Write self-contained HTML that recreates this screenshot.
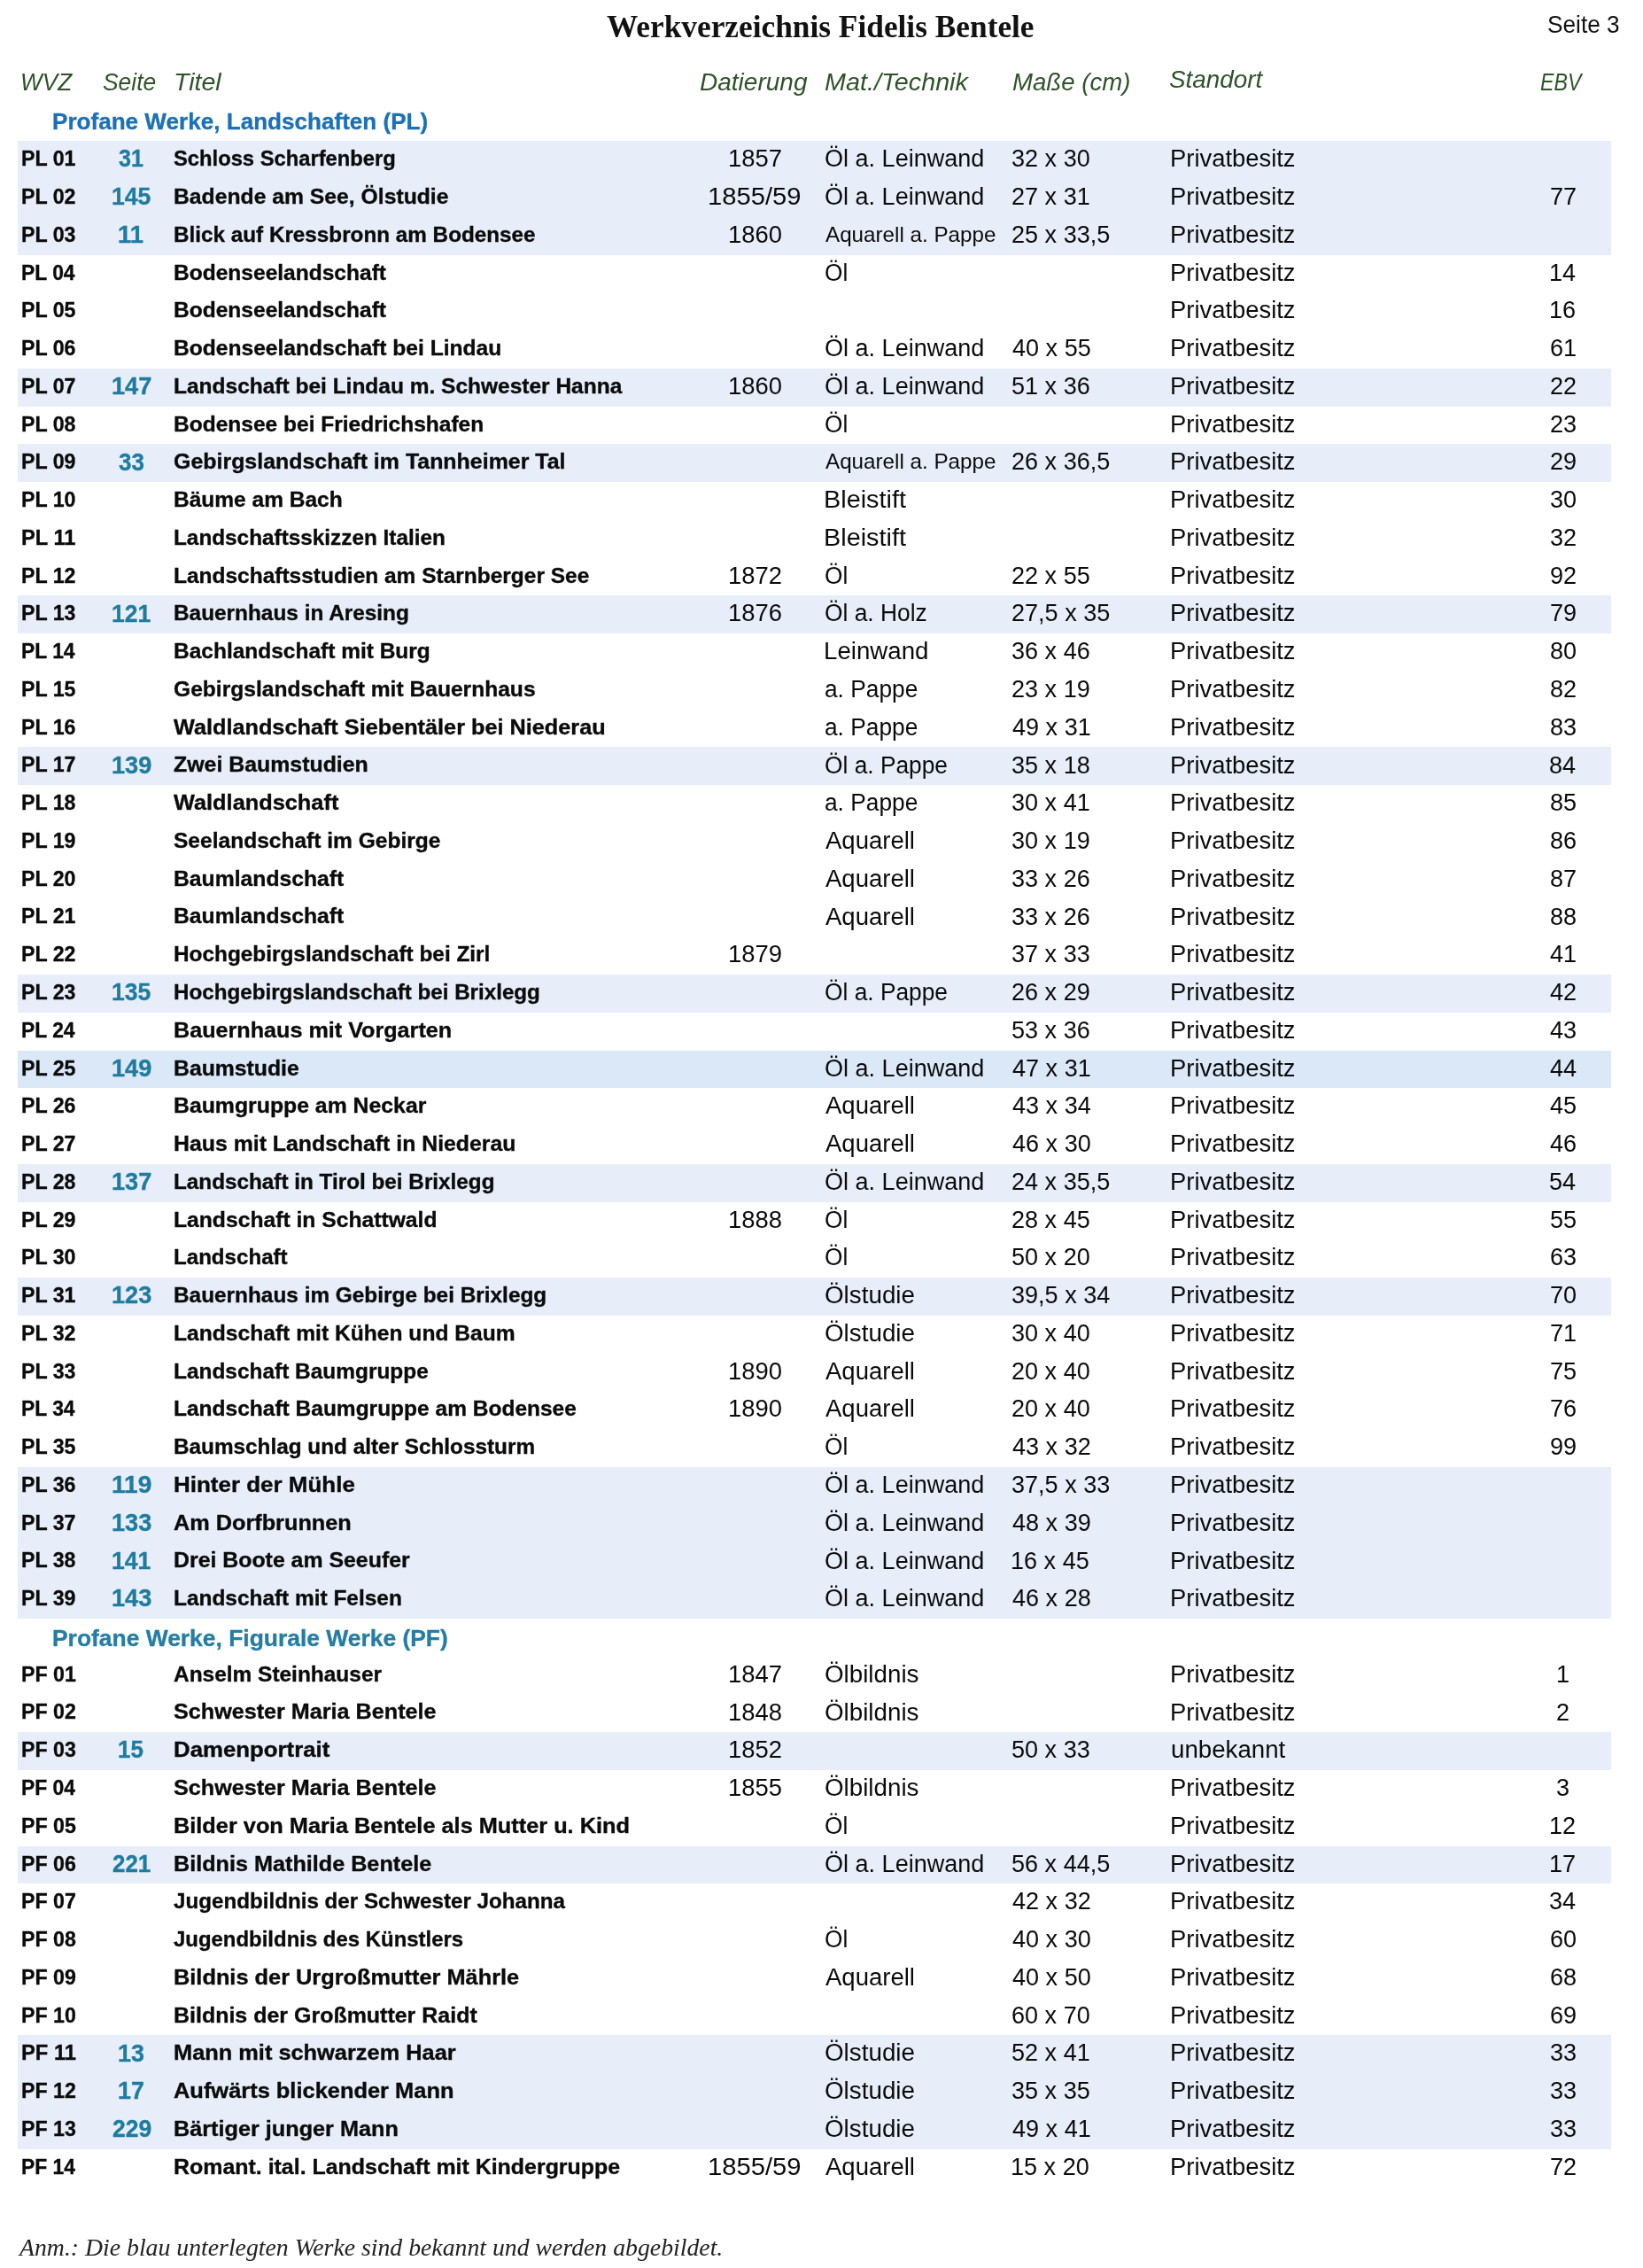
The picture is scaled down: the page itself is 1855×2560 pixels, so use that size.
<!DOCTYPE html>
<html lang="de"><head><meta charset="utf-8"><title>Werkverzeichnis Fidelis Bentele</title>
<style>
html,body{margin:0;padding:0;background:#fff}
body{width:1855px;height:2560px;position:relative;overflow:hidden;font-family:"Liberation Sans",sans-serif}
#pg{position:absolute;left:0;top:0;width:1855px;height:2560px;will-change:transform;filter:blur(0.55px)}
.bd{position:absolute;left:20.0px;width:1798.6px;height:42.762px}
.t{position:absolute;white-space:nowrap;line-height:1;transform-origin:0 0;font-kerning:normal}
.f0{font-family:"Liberation Serif",serif;font-size:35.0px;font-weight:bold;font-style:normal;color:#111}
.f1{font-family:"Liberation Sans",sans-serif;font-size:28.5px;font-weight:normal;font-style:normal;color:#111}
.f2{font-family:"Liberation Serif",serif;font-size:28.0px;font-weight:normal;font-style:italic;color:#222}
.f3{font-family:"Liberation Sans",sans-serif;font-size:27.3px;font-weight:normal;font-style:italic;color:#2e5329}
.f4{font-family:"Liberation Sans",sans-serif;font-size:26.4px;font-weight:bold;font-style:normal;color:#1a71b8;-webkit-text-stroke:0.35px #1a71b8}
.f5{font-family:"Liberation Sans",sans-serif;font-size:24.5px;font-weight:bold;font-style:normal;color:#0b0b0b;-webkit-text-stroke:0.35px #0b0b0b}
.f6{font-family:"Liberation Sans",sans-serif;font-size:26.8px;font-weight:bold;font-style:normal;color:#1f7ba0;-webkit-text-stroke:0.35px #1f7ba0}
.f7{font-family:"Liberation Sans",sans-serif;font-size:26.8px;font-weight:normal;font-style:normal;color:#0b0b0b}
.f8{font-family:"Liberation Sans",sans-serif;font-size:24.0px;font-weight:normal;font-style:normal;color:#0b0b0b}
.f9{font-family:"Liberation Sans",sans-serif;font-size:26.4px;font-weight:bold;font-style:normal;color:#247ea4;-webkit-text-stroke:0.35px #247ea4}
</style></head><body><div id="pg">
<div class="bd" style="top:159.30px;background:#e7eef9"></div>
<div class="bd" style="top:202.06px;background:#e7eef9"></div>
<div class="bd" style="top:244.82px;background:#e7eef9"></div>
<div class="bd" style="top:415.87px;background:#e7eef9"></div>
<div class="bd" style="top:501.40px;background:#e7eef9"></div>
<div class="bd" style="top:672.44px;background:#e7eef9"></div>
<div class="bd" style="top:843.49px;background:#e7eef9"></div>
<div class="bd" style="top:1100.06px;background:#e7eef9"></div>
<div class="bd" style="top:1185.59px;background:#dae8f8"></div>
<div class="bd" style="top:1313.87px;background:#e7eef9"></div>
<div class="bd" style="top:1442.16px;background:#e7eef9"></div>
<div class="bd" style="top:1655.97px;background:#e7eef9"></div>
<div class="bd" style="top:1698.73px;background:#e7eef9"></div>
<div class="bd" style="top:1741.49px;background:#e7eef9"></div>
<div class="bd" style="top:1784.26px;background:#e7eef9"></div>
<div class="bd" style="top:1955.30px;background:#e7eef9"></div>
<div class="bd" style="top:2083.59px;background:#e7eef9"></div>
<div class="bd" style="top:2297.40px;background:#e7eef9"></div>
<div class="bd" style="top:2340.16px;background:#e7eef9"></div>
<div class="bd" style="top:2382.92px;background:#e7eef9"></div>
<span class="t f0" style="left:685.00px;top:13px;transform:scaleX(1.0090)">Werkverzeichnis Fidelis Bentele</span>
<span class="t f1" style="left:1746.78px;top:13px;transform:scaleX(0.9197)">Seite 3</span>
<span class="t f2" style="left:21.98px;top:2523px;transform:scaleX(0.9914)">Anm.: Die blau unterlegten Werke sind bekannt und werden abgebildet.</span>
<span class="t f3" style="left:22.83px;top:79px;transform:scaleX(0.9596)">WVZ</span>
<span class="t f3" style="left:116.00px;top:79px;transform:scaleX(0.9680)">Seite</span>
<span class="t f3" style="left:195.66px;top:79px;transform:scaleX(1.0455)">Titel</span>
<span class="t f3" style="left:789.50px;top:79px;transform:scaleX(1.0264)">Datierung</span>
<span class="t f3" style="left:930.70px;top:79px;transform:scaleX(1.0529)">Mat./Technik</span>
<span class="t f3" style="left:1142.70px;top:79px;transform:scaleX(1.0112)">Maße (cm)</span>
<span class="t f3" style="left:1319.90px;top:76px;transform:scaleX(1.0191)">Standort</span>
<span class="t f3" style="left:1738.50px;top:79px;transform:scaleX(0.8500)">EBV</span>
<span class="t f4" style="left:58.51px;top:124px;transform:scaleX(0.9885)">Profane Werke, Landschaften (PL)</span>
<span class="t f5" style="left:23.95px;top:167px;transform:scaleX(0.9476)">PL 01</span>
<span class="t f6" style="left:134.30px;top:166px;transform:scaleX(0.9364)">31</span>
<span class="t f5" style="left:196.35px;top:167px;transform:scaleX(0.9694)">Schloss Scharfenberg</span>
<span class="t f7" style="left:821.55px;top:166px;transform:scaleX(1.0228)">1857</span>
<span class="t f7" style="left:930.69px;top:166px;transform:scaleX(1.0087)">Öl a. Leinwand</span>
<span class="t f7" style="left:1142.39px;top:166px;transform:scaleX(1.0093)">32 x 30</span>
<span class="t f7" style="left:1320.56px;top:166px;transform:scaleX(1.0220)">Privatbesitz</span>
<span class="t f5" style="left:23.95px;top:210px;transform:scaleX(0.9476)">PL 02</span>
<span class="t f6" style="left:125.61px;top:209px;transform:scaleX(0.9907)">145</span>
<span class="t f5" style="left:196.35px;top:210px;transform:scaleX(1.0090)">Badende am See, Ölstudie</span>
<span class="t f7" style="left:799.27px;top:209px;transform:scaleX(1.0888)">1855/59</span>
<span class="t f7" style="left:930.69px;top:209px;transform:scaleX(1.0087)">Öl a. Leinwand</span>
<span class="t f7" style="left:1142.39px;top:209px;transform:scaleX(1.0093)">27 x 31</span>
<span class="t f7" style="left:1320.56px;top:209px;transform:scaleX(1.0220)">Privatbesitz</span>
<span class="t f7" style="left:1749.61px;top:209px;transform:scaleX(1.0093)">77</span>
<span class="t f5" style="left:23.95px;top:253px;transform:scaleX(0.9476)">PL 03</span>
<span class="t f6" style="left:133.28px;top:252px;transform:scaleX(1.0210)">11</span>
<span class="t f5" style="left:196.35px;top:253px;transform:scaleX(0.9904)">Blick auf Kressbronn am Bodensee</span>
<span class="t f7" style="left:821.55px;top:252px;transform:scaleX(1.0228)">1860</span>
<span class="t f8" style="left:931.70px;top:253px;transform:scaleX(1.0086)">Aquarell a. Pappe</span>
<span class="t f7" style="left:1142.39px;top:252px;transform:scaleX(1.0093)">25 x 33,5</span>
<span class="t f7" style="left:1320.56px;top:252px;transform:scaleX(1.0220)">Privatbesitz</span>
<span class="t f5" style="left:23.97px;top:296px;transform:scaleX(0.9330)">PL 04</span>
<span class="t f5" style="left:196.35px;top:296px;transform:scaleX(1.0016)">Bodenseelandschaft</span>
<span class="t f7" style="left:930.72px;top:295px;transform:scaleX(0.9781)">Öl</span>
<span class="t f7" style="left:1320.56px;top:295px;transform:scaleX(1.0220)">Privatbesitz</span>
<span class="t f7" style="left:1748.60px;top:295px;transform:scaleX(1.0093)">14</span>
<span class="t f5" style="left:23.95px;top:338px;transform:scaleX(0.9476)">PL 05</span>
<span class="t f5" style="left:196.35px;top:338px;transform:scaleX(1.0016)">Bodenseelandschaft</span>
<span class="t f7" style="left:1320.56px;top:337px;transform:scaleX(1.0220)">Privatbesitz</span>
<span class="t f7" style="left:1749.10px;top:337px;transform:scaleX(1.0093)">16</span>
<span class="t f5" style="left:23.95px;top:381px;transform:scaleX(0.9476)">PL 06</span>
<span class="t f5" style="left:196.35px;top:381px;transform:scaleX(1.0035)">Bodenseelandschaft bei Lindau</span>
<span class="t f7" style="left:930.69px;top:380px;transform:scaleX(1.0087)">Öl a. Leinwand</span>
<span class="t f7" style="left:1143.40px;top:380px;transform:scaleX(1.0093)">40 x 55</span>
<span class="t f7" style="left:1320.56px;top:380px;transform:scaleX(1.0220)">Privatbesitz</span>
<span class="t f7" style="left:1749.61px;top:380px;transform:scaleX(1.0093)">61</span>
<span class="t f5" style="left:23.95px;top:424px;transform:scaleX(0.9476)">PL 07</span>
<span class="t f6" style="left:125.59px;top:423px;transform:scaleX(1.0139)">147</span>
<span class="t f5" style="left:196.35px;top:424px;transform:scaleX(0.9997)">Landschaft bei Lindau m. Schwester Hanna</span>
<span class="t f7" style="left:821.55px;top:423px;transform:scaleX(1.0228)">1860</span>
<span class="t f7" style="left:930.69px;top:423px;transform:scaleX(1.0087)">Öl a. Leinwand</span>
<span class="t f7" style="left:1142.39px;top:423px;transform:scaleX(1.0093)">51 x 36</span>
<span class="t f7" style="left:1320.56px;top:423px;transform:scaleX(1.0220)">Privatbesitz</span>
<span class="t f7" style="left:1749.61px;top:423px;transform:scaleX(1.0093)">22</span>
<span class="t f5" style="left:23.95px;top:467px;transform:scaleX(0.9476)">PL 08</span>
<span class="t f5" style="left:196.35px;top:467px;transform:scaleX(1.0009)">Bodensee bei Friedrichshafen</span>
<span class="t f7" style="left:930.72px;top:466px;transform:scaleX(0.9781)">Öl</span>
<span class="t f7" style="left:1320.56px;top:466px;transform:scaleX(1.0220)">Privatbesitz</span>
<span class="t f7" style="left:1749.61px;top:466px;transform:scaleX(1.0093)">23</span>
<span class="t f5" style="left:23.95px;top:509px;transform:scaleX(0.9476)">PL 09</span>
<span class="t f6" style="left:134.30px;top:509px;transform:scaleX(0.9688)">33</span>
<span class="t f5" style="left:196.35px;top:509px;transform:scaleX(1.0178)">Gebirgslandschaft im Tannheimer Tal</span>
<span class="t f8" style="left:931.70px;top:509px;transform:scaleX(1.0086)">Aquarell a. Pappe</span>
<span class="t f7" style="left:1142.39px;top:508px;transform:scaleX(1.0093)">26 x 36,5</span>
<span class="t f7" style="left:1320.56px;top:508px;transform:scaleX(1.0220)">Privatbesitz</span>
<span class="t f7" style="left:1749.61px;top:508px;transform:scaleX(1.0093)">29</span>
<span class="t f5" style="left:23.95px;top:552px;transform:scaleX(0.9476)">PL 10</span>
<span class="t f5" style="left:196.35px;top:552px;transform:scaleX(1.0005)">Bäume am Bach</span>
<span class="t f7" style="left:929.55px;top:551px;transform:scaleX(1.0762)">Bleistift</span>
<span class="t f7" style="left:1320.56px;top:551px;transform:scaleX(1.0220)">Privatbesitz</span>
<span class="t f7" style="left:1749.61px;top:551px;transform:scaleX(1.0093)">30</span>
<span class="t f5" style="left:23.93px;top:595px;transform:scaleX(0.9681)">PL 11</span>
<span class="t f5" style="left:196.35px;top:595px;transform:scaleX(0.9927)">Landschaftsskizzen Italien</span>
<span class="t f7" style="left:929.55px;top:594px;transform:scaleX(1.0762)">Bleistift</span>
<span class="t f7" style="left:1320.56px;top:594px;transform:scaleX(1.0220)">Privatbesitz</span>
<span class="t f7" style="left:1749.61px;top:594px;transform:scaleX(1.0093)">32</span>
<span class="t f5" style="left:23.95px;top:638px;transform:scaleX(0.9476)">PL 12</span>
<span class="t f5" style="left:196.35px;top:638px;transform:scaleX(0.9990)">Landschaftsstudien am Starnberger See</span>
<span class="t f7" style="left:821.55px;top:637px;transform:scaleX(1.0228)">1872</span>
<span class="t f7" style="left:930.72px;top:637px;transform:scaleX(0.9781)">Öl</span>
<span class="t f7" style="left:1142.39px;top:637px;transform:scaleX(1.0093)">22 x 55</span>
<span class="t f7" style="left:1320.56px;top:637px;transform:scaleX(1.0220)">Privatbesitz</span>
<span class="t f7" style="left:1749.61px;top:637px;transform:scaleX(1.0093)">92</span>
<span class="t f5" style="left:23.95px;top:680px;transform:scaleX(0.9476)">PL 13</span>
<span class="t f6" style="left:125.61px;top:680px;transform:scaleX(0.9907)">121</span>
<span class="t f5" style="left:196.35px;top:680px;transform:scaleX(0.9948)">Bauernhaus in Aresing</span>
<span class="t f7" style="left:821.55px;top:679px;transform:scaleX(1.0228)">1876</span>
<span class="t f7" style="left:930.72px;top:679px;transform:scaleX(0.9841)">Öl a. Holz</span>
<span class="t f7" style="left:1142.39px;top:679px;transform:scaleX(1.0093)">27,5 x 35</span>
<span class="t f7" style="left:1320.56px;top:679px;transform:scaleX(1.0220)">Privatbesitz</span>
<span class="t f7" style="left:1749.61px;top:679px;transform:scaleX(1.0093)">79</span>
<span class="t f5" style="left:23.97px;top:723px;transform:scaleX(0.9330)">PL 14</span>
<span class="t f5" style="left:196.35px;top:723px;transform:scaleX(0.9995)">Bachlandschaft mit Burg</span>
<span class="t f7" style="left:929.64px;top:722px;transform:scaleX(1.0320)">Leinwand</span>
<span class="t f7" style="left:1142.39px;top:722px;transform:scaleX(1.0093)">36 x 46</span>
<span class="t f7" style="left:1320.56px;top:722px;transform:scaleX(1.0220)">Privatbesitz</span>
<span class="t f7" style="left:1749.61px;top:722px;transform:scaleX(1.0093)">80</span>
<span class="t f5" style="left:23.95px;top:766px;transform:scaleX(0.9476)">PL 15</span>
<span class="t f5" style="left:196.35px;top:766px;transform:scaleX(1.0037)">Gebirgslandschaft mit Bauernhaus</span>
<span class="t f7" style="left:930.72px;top:765px;transform:scaleX(0.9812)">a. Pappe</span>
<span class="t f7" style="left:1142.39px;top:765px;transform:scaleX(1.0093)">23 x 19</span>
<span class="t f7" style="left:1320.56px;top:765px;transform:scaleX(1.0220)">Privatbesitz</span>
<span class="t f7" style="left:1749.61px;top:765px;transform:scaleX(1.0093)">82</span>
<span class="t f5" style="left:23.95px;top:809px;transform:scaleX(0.9476)">PL 16</span>
<span class="t f5" style="left:196.35px;top:809px;transform:scaleX(1.0312)">Waldlandschaft Siebentäler bei Niederau</span>
<span class="t f7" style="left:930.72px;top:808px;transform:scaleX(0.9812)">a. Pappe</span>
<span class="t f7" style="left:1143.40px;top:808px;transform:scaleX(1.0093)">49 x 31</span>
<span class="t f7" style="left:1320.56px;top:808px;transform:scaleX(1.0220)">Privatbesitz</span>
<span class="t f7" style="left:1749.61px;top:808px;transform:scaleX(1.0093)">83</span>
<span class="t f5" style="left:23.95px;top:851px;transform:scaleX(0.9476)">PL 17</span>
<span class="t f6" style="left:125.59px;top:851px;transform:scaleX(1.0139)">139</span>
<span class="t f5" style="left:196.35px;top:851px;transform:scaleX(1.0156)">Zwei Baumstudien</span>
<span class="t f7" style="left:930.72px;top:851px;transform:scaleX(0.9820)">Öl a. Pappe</span>
<span class="t f7" style="left:1142.39px;top:851px;transform:scaleX(1.0093)">35 x 18</span>
<span class="t f7" style="left:1320.56px;top:851px;transform:scaleX(1.0220)">Privatbesitz</span>
<span class="t f7" style="left:1749.10px;top:851px;transform:scaleX(1.0093)">84</span>
<span class="t f5" style="left:23.95px;top:894px;transform:scaleX(0.9476)">PL 18</span>
<span class="t f5" style="left:196.35px;top:894px;transform:scaleX(1.0343)">Waldlandschaft</span>
<span class="t f7" style="left:930.72px;top:893px;transform:scaleX(0.9812)">a. Pappe</span>
<span class="t f7" style="left:1142.39px;top:893px;transform:scaleX(1.0093)">30 x 41</span>
<span class="t f7" style="left:1320.56px;top:893px;transform:scaleX(1.0220)">Privatbesitz</span>
<span class="t f7" style="left:1749.61px;top:893px;transform:scaleX(1.0093)">85</span>
<span class="t f5" style="left:23.95px;top:937px;transform:scaleX(0.9476)">PL 19</span>
<span class="t f5" style="left:196.35px;top:937px;transform:scaleX(1.0019)">Seelandschaft im Gebirge</span>
<span class="t f7" style="left:931.70px;top:936px;transform:scaleX(1.0271)">Aquarell</span>
<span class="t f7" style="left:1142.39px;top:936px;transform:scaleX(1.0093)">30 x 19</span>
<span class="t f7" style="left:1320.56px;top:936px;transform:scaleX(1.0220)">Privatbesitz</span>
<span class="t f7" style="left:1749.61px;top:936px;transform:scaleX(1.0093)">86</span>
<span class="t f5" style="left:23.95px;top:980px;transform:scaleX(0.9476)">PL 20</span>
<span class="t f5" style="left:196.35px;top:980px;transform:scaleX(1.0090)">Baumlandschaft</span>
<span class="t f7" style="left:931.70px;top:979px;transform:scaleX(1.0271)">Aquarell</span>
<span class="t f7" style="left:1142.39px;top:979px;transform:scaleX(1.0093)">33 x 26</span>
<span class="t f7" style="left:1320.56px;top:979px;transform:scaleX(1.0220)">Privatbesitz</span>
<span class="t f7" style="left:1749.61px;top:979px;transform:scaleX(1.0093)">87</span>
<span class="t f5" style="left:23.95px;top:1022px;transform:scaleX(0.9476)">PL 21</span>
<span class="t f5" style="left:196.35px;top:1022px;transform:scaleX(1.0090)">Baumlandschaft</span>
<span class="t f7" style="left:931.70px;top:1022px;transform:scaleX(1.0271)">Aquarell</span>
<span class="t f7" style="left:1142.39px;top:1022px;transform:scaleX(1.0093)">33 x 26</span>
<span class="t f7" style="left:1320.56px;top:1022px;transform:scaleX(1.0220)">Privatbesitz</span>
<span class="t f7" style="left:1749.61px;top:1022px;transform:scaleX(1.0093)">88</span>
<span class="t f5" style="left:23.95px;top:1065px;transform:scaleX(0.9476)">PL 22</span>
<span class="t f5" style="left:196.35px;top:1065px;transform:scaleX(0.9943)">Hochgebirgslandschaft bei Zirl</span>
<span class="t f7" style="left:821.55px;top:1064px;transform:scaleX(1.0228)">1879</span>
<span class="t f7" style="left:1142.39px;top:1064px;transform:scaleX(1.0093)">37 x 33</span>
<span class="t f7" style="left:1320.56px;top:1064px;transform:scaleX(1.0220)">Privatbesitz</span>
<span class="t f7" style="left:1750.11px;top:1064px;transform:scaleX(1.0093)">41</span>
<span class="t f5" style="left:23.95px;top:1108px;transform:scaleX(0.9476)">PL 23</span>
<span class="t f6" style="left:125.61px;top:1107px;transform:scaleX(0.9907)">135</span>
<span class="t f5" style="left:196.35px;top:1108px;transform:scaleX(0.9871)">Hochgebirgslandschaft bei Brixlegg</span>
<span class="t f7" style="left:930.72px;top:1107px;transform:scaleX(0.9820)">Öl a. Pappe</span>
<span class="t f7" style="left:1142.39px;top:1107px;transform:scaleX(1.0093)">26 x 29</span>
<span class="t f7" style="left:1320.56px;top:1107px;transform:scaleX(1.0220)">Privatbesitz</span>
<span class="t f7" style="left:1750.11px;top:1107px;transform:scaleX(1.0093)">42</span>
<span class="t f5" style="left:23.97px;top:1151px;transform:scaleX(0.9330)">PL 24</span>
<span class="t f5" style="left:196.35px;top:1151px;transform:scaleX(1.0271)">Bauernhaus mit Vorgarten</span>
<span class="t f7" style="left:1142.39px;top:1150px;transform:scaleX(1.0093)">53 x 36</span>
<span class="t f7" style="left:1320.56px;top:1150px;transform:scaleX(1.0220)">Privatbesitz</span>
<span class="t f7" style="left:1750.11px;top:1150px;transform:scaleX(1.0093)">43</span>
<span class="t f5" style="left:23.95px;top:1194px;transform:scaleX(0.9476)">PL 25</span>
<span class="t f6" style="left:125.59px;top:1193px;transform:scaleX(1.0139)">149</span>
<span class="t f5" style="left:196.35px;top:1194px;transform:scaleX(1.0104)">Baumstudie</span>
<span class="t f7" style="left:930.69px;top:1193px;transform:scaleX(1.0087)">Öl a. Leinwand</span>
<span class="t f7" style="left:1143.40px;top:1193px;transform:scaleX(1.0093)">47 x 31</span>
<span class="t f7" style="left:1320.56px;top:1193px;transform:scaleX(1.0220)">Privatbesitz</span>
<span class="t f7" style="left:1749.61px;top:1193px;transform:scaleX(1.0093)">44</span>
<span class="t f5" style="left:23.95px;top:1236px;transform:scaleX(0.9476)">PL 26</span>
<span class="t f5" style="left:196.35px;top:1236px;transform:scaleX(1.0125)">Baumgruppe am Neckar</span>
<span class="t f7" style="left:931.70px;top:1235px;transform:scaleX(1.0271)">Aquarell</span>
<span class="t f7" style="left:1143.40px;top:1235px;transform:scaleX(1.0093)">43 x 34</span>
<span class="t f7" style="left:1320.56px;top:1235px;transform:scaleX(1.0220)">Privatbesitz</span>
<span class="t f7" style="left:1750.11px;top:1235px;transform:scaleX(1.0093)">45</span>
<span class="t f5" style="left:23.95px;top:1279px;transform:scaleX(0.9476)">PL 27</span>
<span class="t f5" style="left:196.35px;top:1279px;transform:scaleX(1.0140)">Haus mit Landschaft in Niederau</span>
<span class="t f7" style="left:931.70px;top:1278px;transform:scaleX(1.0271)">Aquarell</span>
<span class="t f7" style="left:1143.40px;top:1278px;transform:scaleX(1.0093)">46 x 30</span>
<span class="t f7" style="left:1320.56px;top:1278px;transform:scaleX(1.0220)">Privatbesitz</span>
<span class="t f7" style="left:1750.11px;top:1278px;transform:scaleX(1.0093)">46</span>
<span class="t f5" style="left:23.95px;top:1322px;transform:scaleX(0.9476)">PL 28</span>
<span class="t f6" style="left:125.59px;top:1321px;transform:scaleX(1.0139)">137</span>
<span class="t f5" style="left:196.35px;top:1322px;transform:scaleX(0.9912)">Landschaft in Tirol bei Brixlegg</span>
<span class="t f7" style="left:930.69px;top:1321px;transform:scaleX(1.0087)">Öl a. Leinwand</span>
<span class="t f7" style="left:1142.39px;top:1321px;transform:scaleX(1.0093)">24 x 35,5</span>
<span class="t f7" style="left:1320.56px;top:1321px;transform:scaleX(1.0220)">Privatbesitz</span>
<span class="t f7" style="left:1749.10px;top:1321px;transform:scaleX(1.0093)">54</span>
<span class="t f5" style="left:23.95px;top:1365px;transform:scaleX(0.9476)">PL 29</span>
<span class="t f5" style="left:196.35px;top:1365px;transform:scaleX(1.0072)">Landschaft in Schattwald</span>
<span class="t f7" style="left:821.55px;top:1364px;transform:scaleX(1.0228)">1888</span>
<span class="t f7" style="left:930.72px;top:1364px;transform:scaleX(0.9781)">Öl</span>
<span class="t f7" style="left:1142.39px;top:1364px;transform:scaleX(1.0093)">28 x 45</span>
<span class="t f7" style="left:1320.56px;top:1364px;transform:scaleX(1.0220)">Privatbesitz</span>
<span class="t f7" style="left:1749.61px;top:1364px;transform:scaleX(1.0093)">55</span>
<span class="t f5" style="left:23.95px;top:1407px;transform:scaleX(0.9476)">PL 30</span>
<span class="t f5" style="left:196.35px;top:1407px;transform:scaleX(0.9841)">Landschaft</span>
<span class="t f7" style="left:930.72px;top:1406px;transform:scaleX(0.9781)">Öl</span>
<span class="t f7" style="left:1142.39px;top:1406px;transform:scaleX(1.0093)">50 x 20</span>
<span class="t f7" style="left:1320.56px;top:1406px;transform:scaleX(1.0220)">Privatbesitz</span>
<span class="t f7" style="left:1749.61px;top:1406px;transform:scaleX(1.0093)">63</span>
<span class="t f5" style="left:23.95px;top:1450px;transform:scaleX(0.9476)">PL 31</span>
<span class="t f6" style="left:125.59px;top:1449px;transform:scaleX(1.0139)">123</span>
<span class="t f5" style="left:196.35px;top:1450px;transform:scaleX(0.9948)">Bauernhaus im Gebirge bei Brixlegg</span>
<span class="t f7" style="left:930.66px;top:1449px;transform:scaleX(1.0373)">Ölstudie</span>
<span class="t f7" style="left:1142.39px;top:1449px;transform:scaleX(1.0093)">39,5 x 34</span>
<span class="t f7" style="left:1320.56px;top:1449px;transform:scaleX(1.0220)">Privatbesitz</span>
<span class="t f7" style="left:1749.61px;top:1449px;transform:scaleX(1.0093)">70</span>
<span class="t f5" style="left:23.95px;top:1493px;transform:scaleX(0.9476)">PL 32</span>
<span class="t f5" style="left:196.35px;top:1493px;transform:scaleX(1.0049)">Landschaft mit Kühen und Baum</span>
<span class="t f7" style="left:930.66px;top:1492px;transform:scaleX(1.0373)">Ölstudie</span>
<span class="t f7" style="left:1142.39px;top:1492px;transform:scaleX(1.0093)">30 x 40</span>
<span class="t f7" style="left:1320.56px;top:1492px;transform:scaleX(1.0220)">Privatbesitz</span>
<span class="t f7" style="left:1749.61px;top:1492px;transform:scaleX(1.0093)">71</span>
<span class="t f5" style="left:23.95px;top:1536px;transform:scaleX(0.9476)">PL 33</span>
<span class="t f5" style="left:196.35px;top:1536px;transform:scaleX(0.9972)">Landschaft Baumgruppe</span>
<span class="t f7" style="left:821.55px;top:1535px;transform:scaleX(1.0228)">1890</span>
<span class="t f7" style="left:931.70px;top:1535px;transform:scaleX(1.0271)">Aquarell</span>
<span class="t f7" style="left:1142.39px;top:1535px;transform:scaleX(1.0093)">20 x 40</span>
<span class="t f7" style="left:1320.56px;top:1535px;transform:scaleX(1.0220)">Privatbesitz</span>
<span class="t f7" style="left:1749.61px;top:1535px;transform:scaleX(1.0093)">75</span>
<span class="t f5" style="left:23.97px;top:1578px;transform:scaleX(0.9330)">PL 34</span>
<span class="t f5" style="left:196.35px;top:1578px;transform:scaleX(1.0004)">Landschaft Baumgruppe am Bodensee</span>
<span class="t f7" style="left:821.55px;top:1577px;transform:scaleX(1.0228)">1890</span>
<span class="t f7" style="left:931.70px;top:1577px;transform:scaleX(1.0271)">Aquarell</span>
<span class="t f7" style="left:1142.39px;top:1577px;transform:scaleX(1.0093)">20 x 40</span>
<span class="t f7" style="left:1320.56px;top:1577px;transform:scaleX(1.0220)">Privatbesitz</span>
<span class="t f7" style="left:1749.61px;top:1577px;transform:scaleX(1.0093)">76</span>
<span class="t f5" style="left:23.95px;top:1621px;transform:scaleX(0.9476)">PL 35</span>
<span class="t f5" style="left:196.35px;top:1621px;transform:scaleX(0.9924)">Baumschlag und alter Schlossturm</span>
<span class="t f7" style="left:930.72px;top:1620px;transform:scaleX(0.9781)">Öl</span>
<span class="t f7" style="left:1143.40px;top:1620px;transform:scaleX(1.0093)">43 x 32</span>
<span class="t f7" style="left:1320.56px;top:1620px;transform:scaleX(1.0220)">Privatbesitz</span>
<span class="t f7" style="left:1749.61px;top:1620px;transform:scaleX(1.0093)">99</span>
<span class="t f5" style="left:23.95px;top:1664px;transform:scaleX(0.9476)">PL 36</span>
<span class="t f6" style="left:125.55px;top:1663px;transform:scaleX(1.0501)">119</span>
<span class="t f5" style="left:196.35px;top:1664px;transform:scaleX(1.0596)">Hinter der Mühle</span>
<span class="t f7" style="left:930.69px;top:1663px;transform:scaleX(1.0087)">Öl a. Leinwand</span>
<span class="t f7" style="left:1142.39px;top:1663px;transform:scaleX(1.0093)">37,5 x 33</span>
<span class="t f7" style="left:1320.56px;top:1663px;transform:scaleX(1.0220)">Privatbesitz</span>
<span class="t f5" style="left:23.95px;top:1707px;transform:scaleX(0.9476)">PL 37</span>
<span class="t f6" style="left:125.59px;top:1706px;transform:scaleX(1.0139)">133</span>
<span class="t f5" style="left:196.35px;top:1707px;transform:scaleX(1.0315)">Am Dorfbrunnen</span>
<span class="t f7" style="left:930.69px;top:1706px;transform:scaleX(1.0087)">Öl a. Leinwand</span>
<span class="t f7" style="left:1143.40px;top:1706px;transform:scaleX(1.0093)">48 x 39</span>
<span class="t f7" style="left:1320.56px;top:1706px;transform:scaleX(1.0220)">Privatbesitz</span>
<span class="t f5" style="left:23.95px;top:1749px;transform:scaleX(0.9476)">PL 38</span>
<span class="t f6" style="left:125.61px;top:1749px;transform:scaleX(0.9907)">141</span>
<span class="t f5" style="left:196.35px;top:1749px;transform:scaleX(1.0148)">Drei Boote am Seeufer</span>
<span class="t f7" style="left:930.69px;top:1749px;transform:scaleX(1.0087)">Öl a. Leinwand</span>
<span class="t f7" style="left:1141.38px;top:1749px;transform:scaleX(1.0093)">16 x 45</span>
<span class="t f7" style="left:1320.56px;top:1749px;transform:scaleX(1.0220)">Privatbesitz</span>
<span class="t f5" style="left:23.95px;top:1792px;transform:scaleX(0.9476)">PL 39</span>
<span class="t f6" style="left:125.59px;top:1791px;transform:scaleX(1.0139)">143</span>
<span class="t f5" style="left:196.35px;top:1792px;transform:scaleX(0.9967)">Landschaft mit Felsen</span>
<span class="t f7" style="left:930.69px;top:1791px;transform:scaleX(1.0087)">Öl a. Leinwand</span>
<span class="t f7" style="left:1143.40px;top:1791px;transform:scaleX(1.0093)">46 x 28</span>
<span class="t f7" style="left:1320.56px;top:1791px;transform:scaleX(1.0220)">Privatbesitz</span>
<span class="t f9" style="left:58.50px;top:1836px;transform:scaleX(1.0010)">Profane Werke, Figurale Werke (PF)</span>
<span class="t f5" style="left:23.95px;top:1878px;transform:scaleX(0.9476)">PF 01</span>
<span class="t f5" style="left:196.35px;top:1878px;transform:scaleX(0.9976)">Anselm Steinhauser</span>
<span class="t f7" style="left:821.55px;top:1877px;transform:scaleX(1.0228)">1847</span>
<span class="t f7" style="left:930.66px;top:1877px;transform:scaleX(1.0358)">Ölbildnis</span>
<span class="t f7" style="left:1320.56px;top:1877px;transform:scaleX(1.0220)">Privatbesitz</span>
<span class="t f7" style="left:1756.63px;top:1877px;transform:scaleX(1.0093)">1</span>
<span class="t f5" style="left:23.95px;top:1920px;transform:scaleX(0.9476)">PF 02</span>
<span class="t f5" style="left:196.35px;top:1920px;transform:scaleX(1.0271)">Schwester Maria Bentele</span>
<span class="t f7" style="left:821.55px;top:1920px;transform:scaleX(1.0228)">1848</span>
<span class="t f7" style="left:930.66px;top:1920px;transform:scaleX(1.0358)">Ölbildnis</span>
<span class="t f7" style="left:1320.56px;top:1920px;transform:scaleX(1.0220)">Privatbesitz</span>
<span class="t f7" style="left:1757.13px;top:1920px;transform:scaleX(1.0093)">2</span>
<span class="t f5" style="left:23.95px;top:1963px;transform:scaleX(0.9476)">PF 03</span>
<span class="t f6" style="left:133.33px;top:1962px;transform:scaleX(0.9688)">15</span>
<span class="t f5" style="left:196.35px;top:1963px;transform:scaleX(1.0530)">Damenportrait</span>
<span class="t f7" style="left:821.55px;top:1962px;transform:scaleX(1.0228)">1852</span>
<span class="t f7" style="left:1142.39px;top:1962px;transform:scaleX(1.0093)">50 x 33</span>
<span class="t f7" style="left:1321.57px;top:1962px;transform:scaleX(1.0327)">unbekannt</span>
<span class="t f5" style="left:23.97px;top:2006px;transform:scaleX(0.9330)">PF 04</span>
<span class="t f5" style="left:196.35px;top:2006px;transform:scaleX(1.0271)">Schwester Maria Bentele</span>
<span class="t f7" style="left:821.55px;top:2005px;transform:scaleX(1.0228)">1855</span>
<span class="t f7" style="left:930.66px;top:2005px;transform:scaleX(1.0358)">Ölbildnis</span>
<span class="t f7" style="left:1320.56px;top:2005px;transform:scaleX(1.0220)">Privatbesitz</span>
<span class="t f7" style="left:1757.13px;top:2005px;transform:scaleX(1.0093)">3</span>
<span class="t f5" style="left:23.95px;top:2049px;transform:scaleX(0.9476)">PF 05</span>
<span class="t f5" style="left:196.35px;top:2049px;transform:scaleX(1.0335)">Bilder von Maria Bentele als Mutter u. Kind</span>
<span class="t f7" style="left:930.72px;top:2048px;transform:scaleX(0.9781)">Öl</span>
<span class="t f7" style="left:1320.56px;top:2048px;transform:scaleX(1.0220)">Privatbesitz</span>
<span class="t f7" style="left:1749.10px;top:2048px;transform:scaleX(1.0093)">12</span>
<span class="t f5" style="left:23.95px;top:2092px;transform:scaleX(0.9476)">PF 06</span>
<span class="t f6" style="left:126.60px;top:2091px;transform:scaleX(0.9686)">221</span>
<span class="t f5" style="left:196.35px;top:2092px;transform:scaleX(1.0284)">Bildnis Mathilde Bentele</span>
<span class="t f7" style="left:930.69px;top:2091px;transform:scaleX(1.0087)">Öl a. Leinwand</span>
<span class="t f7" style="left:1142.39px;top:2091px;transform:scaleX(1.0093)">56 x 44,5</span>
<span class="t f7" style="left:1320.56px;top:2091px;transform:scaleX(1.0220)">Privatbesitz</span>
<span class="t f7" style="left:1749.10px;top:2091px;transform:scaleX(1.0093)">17</span>
<span class="t f5" style="left:23.95px;top:2134px;transform:scaleX(0.9476)">PF 07</span>
<span class="t f5" style="left:196.35px;top:2134px;transform:scaleX(0.9866)">Jugendbildnis der Schwester Johanna</span>
<span class="t f7" style="left:1143.40px;top:2133px;transform:scaleX(1.0093)">42 x 32</span>
<span class="t f7" style="left:1320.56px;top:2133px;transform:scaleX(1.0220)">Privatbesitz</span>
<span class="t f7" style="left:1749.10px;top:2133px;transform:scaleX(1.0093)">34</span>
<span class="t f5" style="left:23.95px;top:2177px;transform:scaleX(0.9476)">PF 08</span>
<span class="t f5" style="left:196.35px;top:2177px;transform:scaleX(0.9769)">Jugendbildnis des Künstlers</span>
<span class="t f7" style="left:930.72px;top:2176px;transform:scaleX(0.9781)">Öl</span>
<span class="t f7" style="left:1143.40px;top:2176px;transform:scaleX(1.0093)">40 x 30</span>
<span class="t f7" style="left:1320.56px;top:2176px;transform:scaleX(1.0220)">Privatbesitz</span>
<span class="t f7" style="left:1749.61px;top:2176px;transform:scaleX(1.0093)">60</span>
<span class="t f5" style="left:23.95px;top:2220px;transform:scaleX(0.9476)">PF 09</span>
<span class="t f5" style="left:196.35px;top:2220px;transform:scaleX(1.0348)">Bildnis der Urgroßmutter Mährle</span>
<span class="t f7" style="left:931.70px;top:2219px;transform:scaleX(1.0271)">Aquarell</span>
<span class="t f7" style="left:1143.40px;top:2219px;transform:scaleX(1.0093)">40 x 50</span>
<span class="t f7" style="left:1320.56px;top:2219px;transform:scaleX(1.0220)">Privatbesitz</span>
<span class="t f7" style="left:1749.61px;top:2219px;transform:scaleX(1.0093)">68</span>
<span class="t f5" style="left:23.95px;top:2263px;transform:scaleX(0.9476)">PF 10</span>
<span class="t f5" style="left:196.35px;top:2263px;transform:scaleX(1.0193)">Bildnis der Großmutter Raidt</span>
<span class="t f7" style="left:1142.39px;top:2262px;transform:scaleX(1.0093)">60 x 70</span>
<span class="t f7" style="left:1320.56px;top:2262px;transform:scaleX(1.0220)">Privatbesitz</span>
<span class="t f7" style="left:1749.61px;top:2262px;transform:scaleX(1.0093)">69</span>
<span class="t f5" style="left:23.93px;top:2305px;transform:scaleX(0.9681)">PF 11</span>
<span class="t f6" style="left:133.30px;top:2305px;transform:scaleX(1.0035)">13</span>
<span class="t f5" style="left:196.35px;top:2305px;transform:scaleX(1.0356)">Mann mit schwarzem Haar</span>
<span class="t f7" style="left:930.66px;top:2304px;transform:scaleX(1.0373)">Ölstudie</span>
<span class="t f7" style="left:1142.39px;top:2304px;transform:scaleX(1.0093)">52 x 41</span>
<span class="t f7" style="left:1320.56px;top:2304px;transform:scaleX(1.0220)">Privatbesitz</span>
<span class="t f7" style="left:1749.61px;top:2304px;transform:scaleX(1.0093)">33</span>
<span class="t f5" style="left:23.95px;top:2348px;transform:scaleX(0.9476)">PF 12</span>
<span class="t f6" style="left:133.30px;top:2347px;transform:scaleX(1.0035)">17</span>
<span class="t f5" style="left:196.35px;top:2348px;transform:scaleX(1.0377)">Aufwärts blickender Mann</span>
<span class="t f7" style="left:930.66px;top:2347px;transform:scaleX(1.0373)">Ölstudie</span>
<span class="t f7" style="left:1142.39px;top:2347px;transform:scaleX(1.0093)">35 x 35</span>
<span class="t f7" style="left:1320.56px;top:2347px;transform:scaleX(1.0220)">Privatbesitz</span>
<span class="t f7" style="left:1749.61px;top:2347px;transform:scaleX(1.0093)">33</span>
<span class="t f5" style="left:23.95px;top:2391px;transform:scaleX(0.9476)">PF 13</span>
<span class="t f6" style="left:126.60px;top:2390px;transform:scaleX(0.9907)">229</span>
<span class="t f5" style="left:196.35px;top:2391px;transform:scaleX(1.0303)">Bärtiger junger Mann</span>
<span class="t f7" style="left:930.66px;top:2390px;transform:scaleX(1.0373)">Ölstudie</span>
<span class="t f7" style="left:1143.40px;top:2390px;transform:scaleX(1.0093)">49 x 41</span>
<span class="t f7" style="left:1320.56px;top:2390px;transform:scaleX(1.0220)">Privatbesitz</span>
<span class="t f7" style="left:1749.61px;top:2390px;transform:scaleX(1.0093)">33</span>
<span class="t f5" style="left:23.97px;top:2434px;transform:scaleX(0.9330)">PF 14</span>
<span class="t f5" style="left:196.35px;top:2434px;transform:scaleX(1.0174)">Romant. ital. Landschaft mit Kindergruppe</span>
<span class="t f7" style="left:799.27px;top:2433px;transform:scaleX(1.0888)">1855/59</span>
<span class="t f7" style="left:931.70px;top:2433px;transform:scaleX(1.0271)">Aquarell</span>
<span class="t f7" style="left:1141.38px;top:2433px;transform:scaleX(1.0093)">15 x 20</span>
<span class="t f7" style="left:1320.56px;top:2433px;transform:scaleX(1.0220)">Privatbesitz</span>
<span class="t f7" style="left:1749.61px;top:2433px;transform:scaleX(1.0093)">72</span>
</div></body></html>
